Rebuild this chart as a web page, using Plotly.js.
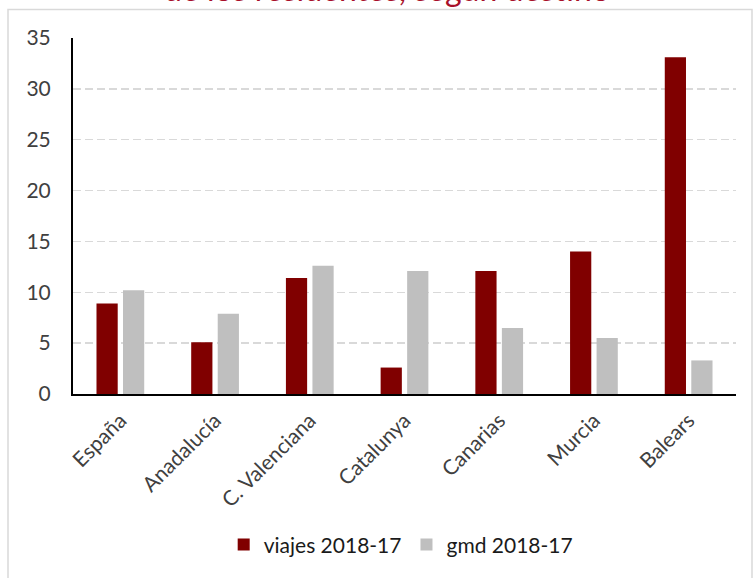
<!DOCTYPE html>
<html>
<head>
<meta charset="utf-8">
<script src="https://cdn.plot.ly/plotly-3.0.1.min.js"></script>
<style>html,body{margin:0;padding:0;background:#fff;}#chart{width:756px;height:578px;}</style>
</head>
<body>
<div id="chart"></div>
<script>
const categories = ["España", "Anadalucía", "C. Valenciana", "Catalunya", "Canarias", "Murcia", "Balears"];
const viajes = [8.9, 5.1, 11.4, 2.6, 12.1, 14.0, 33.1];
const gmd = [10.2, 7.9, 12.6, 12.1, 6.5, 5.5, 3.3];
const seriesNames = ["viajes 2018-17", "gmd 2018-17"];
const titleText = "de los residentes, según destino";

const font = "Lato, 'Open Sans', sans-serif";

const traces = [
  {type: "bar", x: categories, y: viajes, name: seriesNames[0], marker: {color: "#800000"}, hoverinfo: "none"},
  {type: "bar", x: categories, y: gmd, name: seriesNames[1], marker: {color: "#BFBFBF"}, hoverinfo: "none"}
];

const layout = {
  width: 756, height: 578,
  margin: {l: 73, r: 20, t: 38, b: 184},
  paper_bgcolor: "#fff", plot_bgcolor: "#fff",
  font: {family: font, size: 21, color: "#404040"},
  barmode: "group", bargap: 0.44, bargroupgap: 0.2,
  showlegend: true,
  legend: {orientation: "h", x: 0.495, xanchor: "center", y: -0.424, yanchor: "middle",
           font: {family: font, size: 21, color: "#1a1a1a"}, traceorder: "normal", itemwidth: 30},
  xaxis: {
    type: "category", showline: true, linecolor: "#000", linewidth: 2,
    ticks: "outside", ticklen: 4, tickcolor: "rgba(0,0,0,0)", tickangle: -45,
    showgrid: false, zeroline: false, fixedrange: true,
    tickfont: {family: font, size: 21, color: "#404040"}
  },
  yaxis: {
    range: [0, 35], dtick: 5, tick0: 0, showline: true, linecolor: "#000", linewidth: 2,
    ticks: "outside", ticklen: 16, tickcolor: "rgba(0,0,0,0)",
    showgrid: true, gridcolor: "#D9D9D9", gridwidth: 1.5, griddash: "8px,4px",
    zeroline: false, fixedrange: true,
    tickfont: {family: font, size: 21, color: "#404040"}
  },
  shapes: [
    {type: "rect", xref: "paper", yref: "paper",
     x0: (8 - 73) / 663, x1: (752 - 73) / 663, y0: (394 - 590) / 356, y1: (394 - 9.5) / 356,
     line: {color: "#D9D9D9", width: 1.5}, fillcolor: "rgba(0,0,0,0)", layer: "below"}
  ],
  annotations: [
    {text: titleText, xref: "paper", yref: "paper", x: (387 - 73) / 663, y: (394 - 10) / 356,
     xanchor: "center", yanchor: "bottom", showarrow: false,
     font: {family: font, size: 32, color: "#A8102A"}}
  ]
};

Plotly.newPlot("chart", traces, layout, {displayModeBar: false, staticPlot: true});
</script>
</body>
</html>
